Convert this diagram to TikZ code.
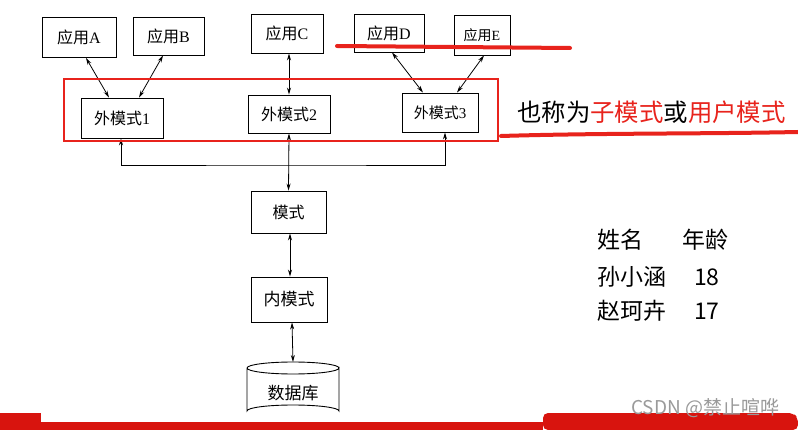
\documentclass[tikz,border=0pt]{standalone}
\usepackage{fontspec}
\setmainfont{Liberation Serif}
\newfontfamily\cjk{Noto Sans CJK SC}
\usetikzlibrary{arrows.meta,calc}
\definecolor{hl}{HTML}{E8231C}
\definecolor{band}{HTML}{D8140E}
\definecolor{wm}{HTML}{9A9A9A}
\begin{document}
\begin{tikzpicture}[x=1pt,y=-1pt,
  box/.style={draw,line width=0.9pt,rectangle,inner sep=0pt,font=\fontsize{16}{16}\selectfont},
  link/.style={line width=0.8pt,{Stealth[length=7pt,width=4pt]}-{Stealth[length=7pt,width=4pt]}},
  big/.style={font=\cjk\fontsize{23}{23}\selectfont,anchor=west,inner sep=0pt}]
\fill[white] (0,0) rectangle (798,430);
\useasboundingbox (0,0) rectangle (798,430);

% applications
\node[box,minimum width=74pt,minimum height=40pt] (A) at (79,37.5) {{\cjk 应用}A};
\node[box,minimum width=71pt,minimum height=38pt] (B) at (168.5,36) {{\cjk 应用}B};
\node[box,minimum width=72pt,minimum height=39pt] (C) at (287,33.5) {{\cjk 应用}C};
\node[box,minimum width=70pt,minimum height=38pt] (D) at (389,33) {{\cjk 应用}D};
\node[box,minimum width=56pt,minimum height=40pt,font=\fontsize{14}{14}\selectfont] (E) at (482,35) {{\cjk 应用}E};

% external schemas
\node[box,minimum width=82pt,minimum height=40pt] (w1) at (122,118) {{\cjk 外模式}1};
\node[box,minimum width=82pt,minimum height=38pt] (w2) at (289,114) {{\cjk 外模式}2};
\node[box,minimum width=76pt,minimum height=39pt,font=\fontsize{15}{15}\selectfont] (w3) at (440,112.5) {{\cjk 外模式}3};

% schema, internal schema
\node[box,minimum width=75pt,minimum height=42pt] (m) at (288.5,212) {\cjk 模式};
\node[box,minimum width=76pt,minimum height=45pt,font=\cjk\fontsize{17}{17}\selectfont] (n) at (289,299.5) {内模式};

% database cylinder
\draw[line width=0.9pt,fill=white] (247,368) -- (247,411) arc[start angle=180,end angle=360,x radius=46,y radius=6]
  -- (339,368) arc[start angle=0,end angle=180,x radius=46,y radius=6];
\draw[line width=0.9pt] (247,368) arc[start angle=180,end angle=360,x radius=46,y radius=6];
\coordinate (dbtop) at (293,362);
\node[font=\cjk\fontsize{17}{17}\selectfont] (db) at (293,393) {数据库};

% connectors
\draw[link] ([xshift=7pt]A.south) -- ([xshift=-13pt]w1.north);
\draw[link] ([xshift=-5.5pt]B.south) -- ([xshift=17pt]w1.north);
\draw[link] ([xshift=2pt]C.south) -- (w2.north);
\draw[link] ([xshift=3pt]D.south) -- ([xshift=-17pt]w3.north);
\draw[link] ([xshift=2pt]E.south) -- ([xshift=17pt]w3.north);
\coordinate (bus) at (289,165);
\draw[link] ([xshift=-1pt]w1.south) |- (bus) -| ([xshift=5pt]w3.south);
\draw[link] (w2.south) -- (m.north);
\draw[link] ([xshift=1.5pt]m.south) -- ([xshift=1pt]n.north);
\draw[link] ([xshift=3pt]n.south) -- (dbtop);

% red highlight box and underlines
\draw[hl,line width=1.2pt] (64,79) rectangle (498,141);
\draw[hl,line width=4pt,line cap=round] (337,46) -- (570,48);
\draw[hl,line width=4pt,line cap=round] (501,136) .. controls (600,133) and (700,134) .. (798,132);
\node[big,font=\cjk\fontsize{24.4}{24.4}\selectfont] (note) at (517,112) {也称为\textcolor{hl}{子模式}或\textcolor{hl}{用户模式}};

% table
\node[big] (t1) at (597,240) {姓名};
\node[big] (t2) at (682,240) {年龄};
\node[big] (t3) at (597,277) {孙小涵};
\node[big] (t4) at (694,277) {18};
\node[big] (t5) at (597,311) {赵珂卉};
\node[big] (t6) at (694,311) {17};

% bottom banner
\fill[band] (0,413) rectangle (41,430);
\fill[band] (41,422) rectangle (543,430);
\fill[band,rounded corners=5pt] (543,413) -- (793,413) -- (798,418) -- (798,430) -- (543,430) -- cycle;
\node[font=\cjk\fontsize{19}{19}\selectfont,text=wm,anchor=west,inner sep=0pt] (wmk) at (631,408) {CSDN @禁止喧哗};
\end{tikzpicture}
\end{document}
